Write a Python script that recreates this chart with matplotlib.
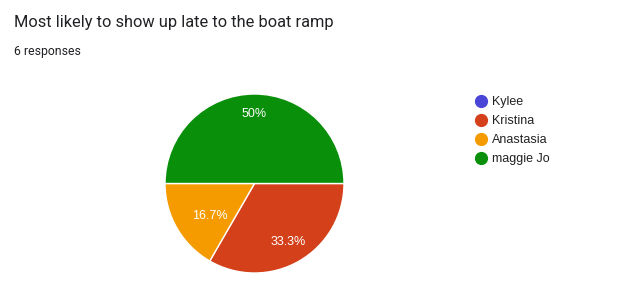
import numpy as np
import matplotlib.pyplot as plt
from matplotlib.lines import Line2D

plt.rcParams['font.family'] = ['Roboto', 'DejaVu Sans']

# Data
names = ["Kylee", "Kristina", "Anastasia", "maggie Jo"]
counts = [0, 2, 1, 3]
colors = ["#4a45d6", "#d4401a", "#f59b00", "#0a8f0a"]
label_dist = [0.7, 0.75, 0.62, 0.78]

W, H = 617, 296
fig = plt.figure(figsize=(W / 100, H / 100), dpi=100)
fig.patch.set_facecolor("white")

# pie centre / radius in pixels
cx, cy, r = 254.5, 183.5, 89.5
ax = fig.add_axes([(cx - r) / W, (H - cy - r) / H, 2 * r / W, 2 * r / H])

def fmt(p):
    if p < 0.01:
        return ""
    if abs(p - round(p)) < 0.05:
        return f"{round(p):.0f}%"
    return f"{p:.1f}%"

wedges, texts, autotexts = ax.pie(
    counts, colors=colors, startangle=0, counterclock=False,
    autopct=fmt, pctdistance=0.72,
    wedgeprops=dict(edgecolor="white", linewidth=1))
for w, t, d in zip(wedges, autotexts, label_dist):
    # small slices: nudge label a bit further down like the original
    mid = (w.theta1 + w.theta2) / 2
    if w.theta2 - w.theta1 < 90:
        mid += 6
    mid = np.deg2rad(mid)
    t.set_position((d * np.cos(mid), d * np.sin(mid)))
    t.set_color("white")
    t.set_fontsize(9)
    t.set_family(["Liberation Sans", "DejaVu Sans"])
ax.set_xlim(-1, 1)
ax.set_ylim(-1, 1)
ax.set_aspect("equal")

fig.text(14 / W, 1 - 22 / H, "Most likely to show up late to the boat ramp",
         fontsize=11.8, color="#202124", va="center", ha="left")
fig.text(14 / W, 1 - 51 / H, "6 responses", fontsize=8.8, color="#202124",
         va="center", ha="left")

handles = [Line2D([], [], marker="o", linestyle="", markersize=8.5,
                  markerfacecolor=c, markeredgecolor=c) for c in colors]
fig.legend(handles, names, loc="upper left",
           bbox_to_anchor=(471 / W, 1 - 91 / H), frameon=False,
           prop={"family": ["Liberation Sans", "DejaVu Sans"], "size": 9},
           handlelength=0.8, handletextpad=0.5,
           labelspacing=0.56, borderaxespad=0, labelcolor="#222222")

fig.savefig("out.png", dpi=100)
